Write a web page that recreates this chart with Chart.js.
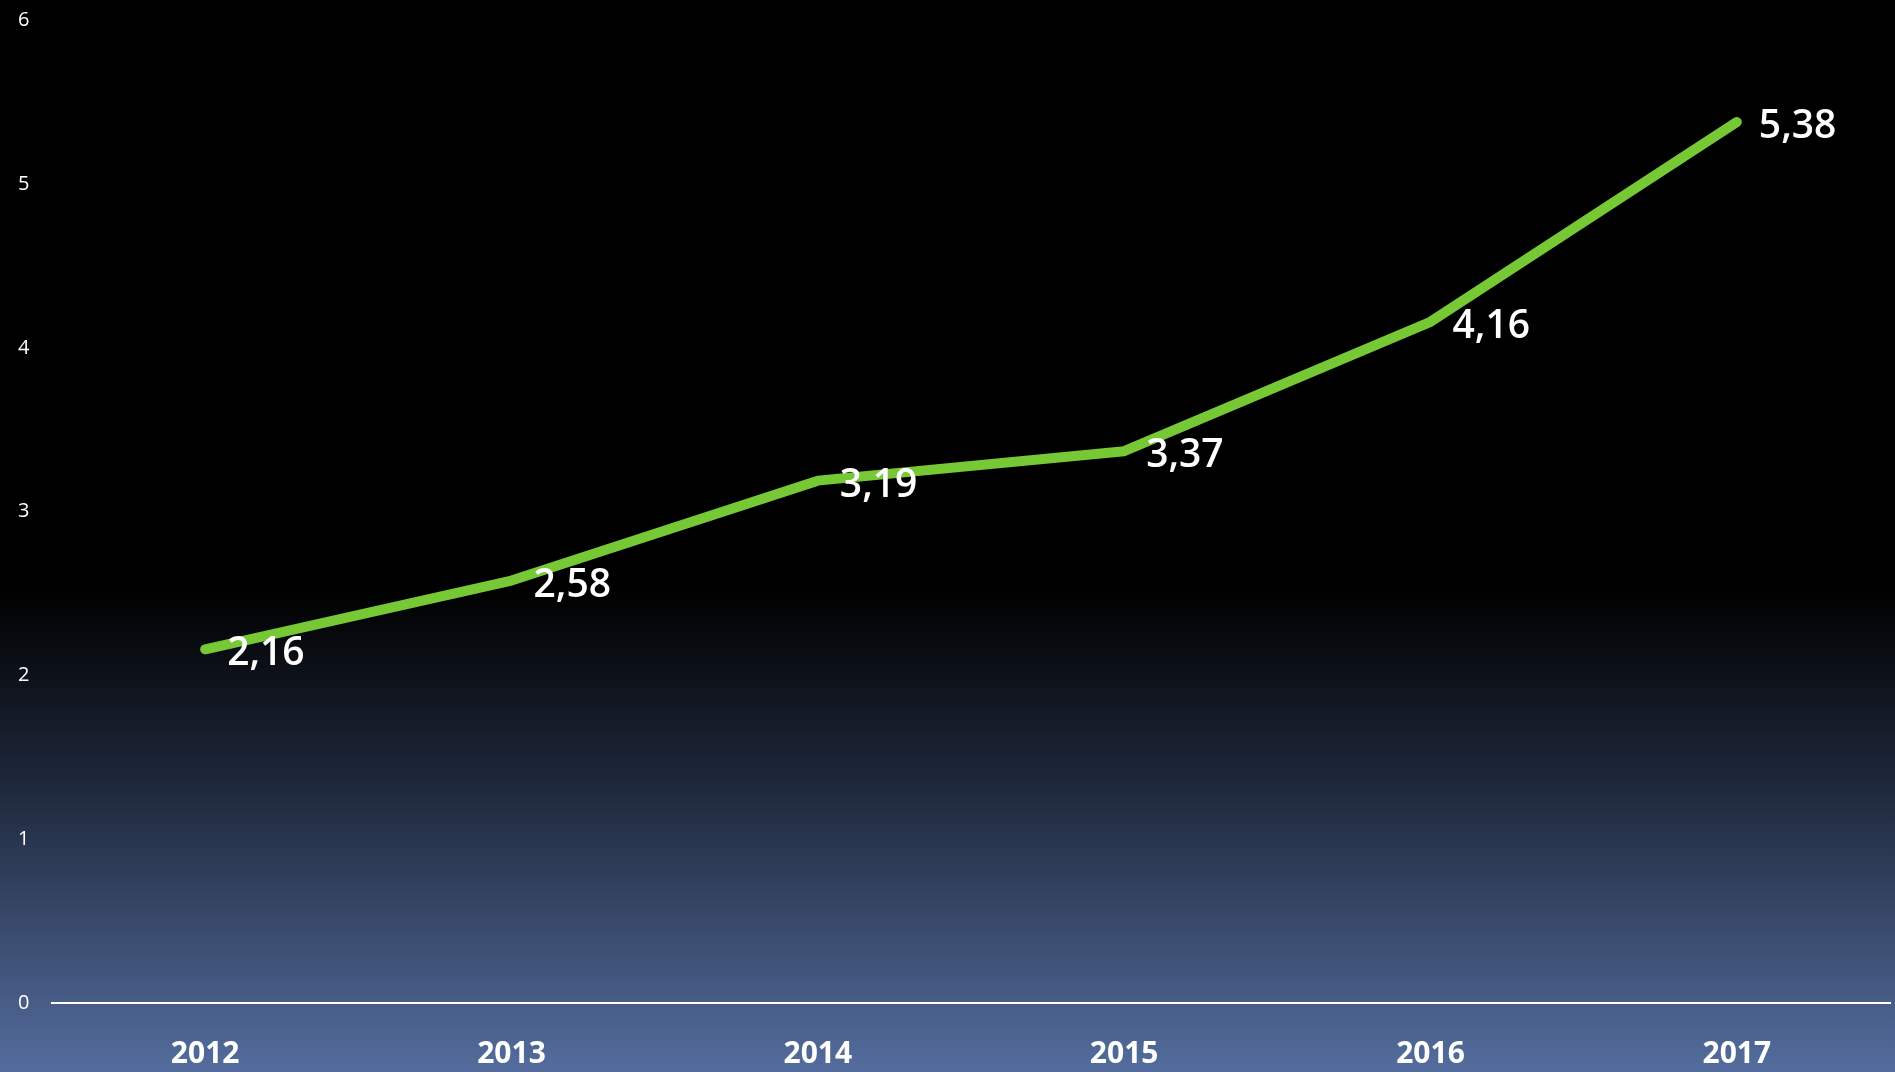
<!DOCTYPE html>
<html lang="de">
<head>
<meta charset="UTF-8">
<title>Line Chart</title>
<script src="https://cdn.jsdelivr.net/npm/chart.js"></script>
<style>
    html, body { margin: 0; padding: 0; background: #000; }
    canvas { display: block; }
</style>
</head>
<body>
<canvas id="myLineChart" width="1895" height="1072"></canvas>
<script>
// data
var years = ['2012', '2013', '2014', '2015', '2016', '2017'];
var values = [2.16, 2.58, 3.19, 3.37, 4.16, 5.38];
var yTicks = [0, 1, 2, 3, 4, 5, 6];

// background gradient, black on top fading into blue
var bgPlugin = {
    id: 'bg',
    beforeDraw: function(chart) {
        var c = chart.ctx;
        var h = chart.height;
        var g = c.createLinearGradient(0, 0, 0, h);
        g.addColorStop(0, '#000000');
        g.addColorStop(0.55, '#000000');
        g.addColorStop(0.72, '#1c2537');
        g.addColorStop(1, '#546d9e');
        c.save();
        c.fillStyle = g;
        c.fillRect(0, 0, chart.width, h);
        c.restore();
    }
};

// value labels next to each point
var labelPlugin = {
    id: 'valueLabels',
    afterDatasetsDraw: function(chart) {
        var c = chart.ctx;
        var meta = chart.getDatasetMeta(0);
        c.save();
        c.fillStyle = '#ffffff';
        c.font = '600 39px "Open Sans"';
        c.textAlign = 'left';
        c.textBaseline = 'middle';
        meta.data.forEach(function(pt, i) {
            var txt = values[i].toFixed(2).replace('.', ',');
            c.fillText(txt, pt.x + 22, pt.y + 5);
        });
        c.restore();
    }
};

var ctx = document.getElementById('myLineChart').getContext('2d');
var myLineChart = new Chart(ctx, {
    type: 'line',
    data: {
        labels: years,
        datasets: [{
            data: values,
            borderColor: '#76c935',
            borderWidth: 10,
            borderCapStyle: 'round',
            borderJoinStyle: 'round',
            pointRadius: 0,
            tension: 0,
            fill: false
        }]
    },
    options: {
        responsive: false,
        animation: false,
        layout: { padding: { top: 0, right: 5, left: 18, bottom: 0 } },
        plugins: {
            legend: { display: false },
            tooltip: { enabled: false }
        },
        scales: {
            x: {
                offset: true,
                grid: { display: false, drawTicks: false },
                border: { display: true, color: '#ffffff', width: 2 },
                afterFit: function(scale) { scale.height = 69; },
                ticks: {
                    color: '#ffffff',
                    padding: 33,
                    font: { family: '"Open Sans"', size: 30, weight: 'bold' }
                }
            },
            y: {
                min: 0,
                max: 6,
                afterBuildTicks: function(axis) {
                    axis.ticks = yTicks.map(function(v) { return { value: v }; });
                },
                afterFit: function(scale) { scale.width = 34; },
                grid: { display: false, drawTicks: false },
                border: { display: false },
                ticks: {
                    color: '#ffffff',
                    padding: 0,
                    crossAlign: 'far',
                    font: { family: '"Open Sans"', size: 20, lineHeight: '41px' }
                }
            }
        }
    },
    plugins: [bgPlugin, labelPlugin]
});
</script>
</body>
</html>
